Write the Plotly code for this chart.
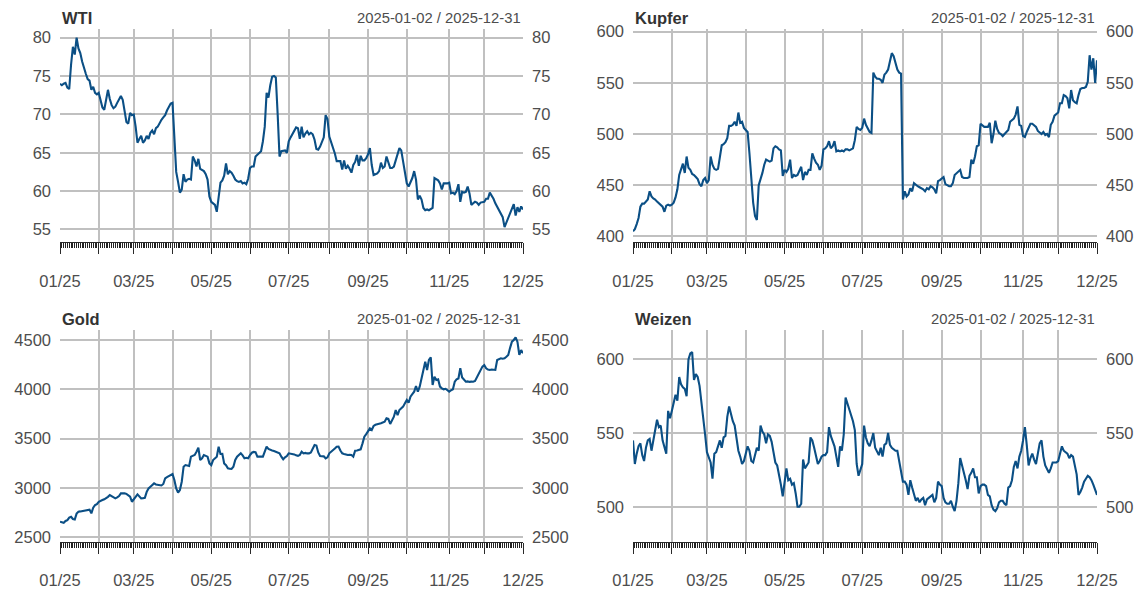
import numpy as np
import pandas as pd
import plotly.graph_objects as go

# Daily closing prices 2025, one list per month (Jan .. Dec)
wti = [
    74.0, 73.8, 74.0, 74.1, 73.5, 73.3, 76.5, 78.8, 77.8, 80.0, 78.6, 78.0, 76.9, 75.9, 75.3, 74.6, 74.4, 73.2, 73.6, 72.8, 72.6,
    72.8, 71.8, 70.9, 70.6, 72.2, 73.2, 72.0, 71.2, 70.8, 71.0, 71.5, 72.0, 72.4, 71.9, 70.5, 69.0, 68.8, 70.2, 69.9,
    70.0, 68.4, 66.3, 66.8, 67.2, 66.3, 66.6, 67.2, 66.8, 67.6, 67.9, 67.4, 68.2, 68.4, 68.9, 69.3, 69.6, 69.9, 70.5, 71.0, 71.4,
    71.5, 66.5, 62.5, 61.2, 59.8, 60.2, 62.2, 61.2, 61.5, 61.6, 61.5, 64.5, 64.0, 63.2, 64.2, 62.9, 62.8, 62.6, 62.2, 61.5, 59.3,
    58.6, 58.4, 58.2, 57.3, 59.5, 61.1, 61.4, 62.0, 63.6, 62.2, 62.6, 62.4, 62.0, 61.5, 61.3, 61.2, 61.3, 61.0, 61.1, 60.9, 61.6,
    63.0, 63.2, 63.2, 64.5, 64.7, 65.0, 65.2, 66.5, 68.4, 72.8, 72.2, 73.8, 74.9, 75.0, 74.8, 70.0, 64.5, 65.2, 65.3, 65.3, 65.0,
    66.5, 67.0, 67.5, 67.9, 68.3, 68.2, 66.8, 68.4, 67.0, 67.5, 67.8, 67.4, 67.6, 67.4, 66.7, 65.5, 65.4, 65.8, 66.3, 67.0, 69.9, 69.4,
    67.1, 66.4, 65.8, 64.9, 63.9, 63.9, 63.9, 62.8, 64.0, 62.9, 63.3, 62.9, 62.4, 63.4, 63.8, 64.7, 63.3, 64.6, 64.0, 64.0, 64.3,
    64.8, 65.6, 63.4, 62.1, 62.2, 62.3, 62.6, 63.7, 63.0, 63.2, 64.5, 63.8, 63.0, 63.0, 63.2, 64.0, 65.0, 65.6, 65.3, 63.8, 62.4,
    61.0, 60.6, 61.2, 61.7, 62.6, 61.5, 58.9, 59.4, 58.9, 57.8, 57.5, 57.6, 57.5, 57.6, 57.8, 61.7, 61.6, 61.4, 61.0, 60.2, 61.0, 61.0, 61.0,
    61.1, 59.7, 59.8, 59.6, 60.0, 60.9, 58.6, 59.9, 59.8, 59.9, 60.6, 59.7, 58.2, 58.4, 58.6, 58.5, 58.2, 58.5, 58.6,
    58.6, 59.0, 59.0, 59.8, 59.4, 59.0, 58.4, 57.9, 57.4, 57.0, 56.6, 55.3, 55.9, 56.4, 57.2, 57.8, 58.3, 56.8, 57.9, 57.3, 58.0, 57.6,
]

kupfer = [
    405, 407, 412, 418, 429, 432, 432, 434, 436, 444, 439, 437, 436, 434, 432, 430, 429, 424, 430, 431, 430,
    431, 433, 438, 446, 460, 466, 471, 462, 478, 467, 465, 461, 460, 458, 456, 451, 449, 455, 457,
    452, 455, 478, 470, 466, 465, 466, 476, 489, 490, 492, 496, 508, 508, 509, 512, 508, 521, 511, 512, 506,
    504, 502, 481, 452, 433, 420, 416, 450, 455, 462, 470, 475, 474, 473, 474, 486, 488, 487, 485, 484, 459,
    465, 463, 466, 475, 457, 460, 459, 460, 465, 468, 455, 463, 460, 465, 465, 481, 476, 472, 470, 465, 469,
    485, 486, 488, 493, 486, 488, 493, 483, 484, 483, 484, 483, 485, 485, 484, 485, 486, 494, 507, 505, 504,
    506, 515, 509, 505, 502, 501, 560, 556, 554, 554, 553, 550, 558, 560, 563, 571, 579, 576, 570, 563, 560, 559,
    436, 444, 439, 441, 447, 444, 452, 450, 449, 448, 447, 446, 444, 447, 446, 449, 448, 446, 442, 454, 455,
    457, 458, 451, 450, 449, 449, 452, 460, 462, 463, 465, 458, 457, 457, 457, 458, 475, 471, 478, 488, 489,
    510, 508, 507, 507, 507, 511, 491, 500, 513, 505, 501, 500, 498, 500, 502, 504, 512, 514, 515, 519, 527, 509, 508,
    498, 497, 502, 506, 510, 510, 508, 507, 503, 501, 500, 502, 499, 500, 497, 509, 512, 518, 520,
    521, 530, 530, 538, 537, 535, 525, 543, 533, 531, 530, 538, 544, 545, 545, 546, 551, 577, 563, 574, 550, 572,
]

gold = [
    2657, 2650, 2646, 2665, 2674, 2700, 2708, 2685, 2680, 2740, 2759, 2762, 2766, 2765, 2770, 2772, 2780, 2742, 2800, 2826, 2836,
    2860, 2865, 2877, 2885, 2894, 2910, 2928, 2918, 2911, 2894, 2905, 2918, 2945, 2948, 2945, 2940, 2925, 2911, 2860,
    2880, 2910, 2935, 2915, 2894, 2896, 2900, 2960, 2995, 3012, 3025, 3046, 3035, 3029, 3030, 3025, 3040, 3097, 3110, 3121, 3130,
    3141, 3080, 2995, 2952, 2979, 3063, 3215, 3232, 3225, 3222, 3317, 3325, 3334, 3367, 3408, 3283, 3300, 3334, 3325, 3317, 3249,
    3232, 3283, 3300, 3317, 3418, 3344, 3345, 3249, 3230, 3198, 3195, 3192, 3215, 3283, 3317, 3330, 3351, 3330, 3300, 3305, 3300,
    3334, 3357, 3365, 3362, 3317, 3320, 3318, 3317, 3360, 3418, 3395, 3384, 3380, 3375, 3367, 3360, 3351, 3317, 3290, 3310, 3323,
    3351, 3348, 3345, 3340, 3330, 3325, 3334, 3367, 3350, 3355, 3350, 3350, 3360, 3400, 3435, 3430, 3360, 3323, 3318, 3320, 3300, 3310,
    3351, 3365, 3384, 3400, 3418, 3420, 3380, 3351, 3345, 3338, 3334, 3335, 3334, 3317, 3378, 3380, 3385, 3391, 3452, 3520, 3545,
    3570, 3604, 3587, 3628, 3640, 3648, 3650, 3655, 3665, 3672, 3706, 3700, 3648, 3690, 3722, 3790, 3739, 3790, 3805, 3824, 3858,
    3891, 3864, 3925, 3950, 3976, 4033, 3976, 4027, 4111, 4162, 4280, 4196, 4297, 4324, 4044, 4128, 4094, 4100, 4027, 4010, 4000, 4005, 3990,
    3976, 3990, 4000, 4077, 4101, 4110, 4213, 4120, 4094, 4077, 4080, 4075, 4078, 4077, 4085, 4121, 4170, 4200, 4230,
    4246, 4213, 4200, 4196, 4200, 4198, 4196, 4297, 4305, 4314, 4310, 4314, 4330, 4348, 4420, 4483, 4500, 4527, 4480, 4348, 4398, 4365,
]

weizen = [
    545, 529, 536, 541, 543, 535, 531, 540, 545, 546, 538, 545, 550, 559, 554, 555, 545, 540, 536, 565, 560,
    565, 570, 576, 572, 588, 583, 581, 580, 575, 600, 604, 605, 586, 590, 588, 582, 572, 561, 549,
    537, 534, 530, 519, 536, 537, 541, 545, 540, 547, 548, 561, 568, 562, 558, 555, 545, 538, 534, 529, 531,
    537, 541, 538, 531, 530, 536, 540, 538, 555, 551, 549, 543, 549, 548, 544, 537, 530, 528, 522, 515, 507,
    517, 526, 518, 519, 515, 516, 509, 500, 500, 502, 532, 526, 528, 530, 547, 545, 540, 535, 529, 531, 534,
    535, 535, 537, 554, 548, 545, 541, 534, 527, 541, 538, 549, 574, 570, 566, 563, 558, 552, 529, 521, 526,
    529, 555, 547, 543, 541, 545, 550, 540, 537, 535, 540, 534, 542, 543, 550, 542, 540, 539, 538, 538, 530, 522,
    517, 517, 515, 508, 518, 513, 509, 504, 506, 503, 505, 506, 501, 505, 506, 507, 508, 503, 506, 517, 515,
    514, 506, 503, 502, 502, 504, 500, 497, 504, 516, 533, 528, 525, 518, 512, 521, 523, 526, 520, 520, 509,
    514, 515, 515, 514, 508, 507, 501, 498, 497, 499, 503, 504, 504, 502, 501, 513, 514, 518, 527, 531, 526, 534, 538,
    545, 554, 542, 528, 533, 536, 532, 529, 536, 543, 545, 534, 528, 525, 523, 526, 530, 530, 530,
    531, 537, 541, 538, 537, 536, 533, 535, 534, 528, 522, 508, 510, 513, 517, 519, 521, 520, 518, 515, 512, 508,
]

titles = ["WTI", "Kupfer", "Gold", "Weizen"]
y_ticks = [
    [55, 60, 65, 70, 75, 80],
    [400, 450, 500, 550, 600],
    [2500, 3000, 3500, 4000, 4500],
    [500, 550, 600],
]
holidays = ["2025-01-20", "2025-02-17", "2025-04-18", "2025-05-26",
            "2025-07-04", "2025-09-01", "2025-11-27", "2025-12-25"]
labelled_months = [1, 3, 5, 7, 9, 11]

# trading-day calendar; x axis is the observation index
days = pd.bdate_range("2025-01-02", "2025-12-31").drop(pd.to_datetime(holidays))
n = len(days)
idx = np.arange(n)
for s in (wti, kupfer, gold, weizen):
    assert len(s) == n, (len(s), n)

month_starts = [i for i in range(n) if i == 0 or days[i].month != days[i - 1].month]
tick_pos = month_starts + [n - 1]
tick_txt = [days[i].strftime("%m/%y") if days[i].month in labelled_months else "" for i in month_starts]
tick_txt.append(days[-1].strftime("%m/%y"))
span_txt = f"{days[0]:%Y-%m-%d} / {days[-1]:%Y-%m-%d}"

W, H = 1143, 593
LINE = "#0B4F85"
GRID = "#C0C0C0"
AX = "#2A2A2A"
TXT = "#4D4D4D"
FONT = "Liberation Sans, Arial, sans-serif"

# panel frames in pixels: (left, right), (top, bottom), y range
frames = [
    ((60, 523), (29, 241.7), (53.4, 81.13)),
    ((633, 1097), (29, 241.7), (394.8, 602.6)),
    ((60, 523), (330, 541.5), (2457, 4601)),
    ((633, 1097), (330, 541.5), (476.4, 619.9)),
]
series = [wti, kupfer, gold, weizen]

fig = go.Figure()
layout = dict(
    width=W, height=H, margin=dict(l=0, r=0, t=0, b=0, autoexpand=False),
    paper_bgcolor="white", plot_bgcolor="white",
    font=dict(family=FONT, color=TXT), showlegend=False, hovermode=False,
    annotations=[],
)

for k, (title, vals, ticks, ((x0, x1), (top, bot), yr)) in enumerate(
        zip(titles, series, y_ticks, frames), start=1):
    xa, ya, yr_ax = f"x{k}", f"y{k}", f"y{k + 4}"
    fig.add_trace(go.Scatter(x=idx, y=vals, xaxis=xa, yaxis=ya, mode="lines",
                             line=dict(color=LINE, width=2.1)))
    fig.add_trace(go.Scatter(x=idx, y=vals, xaxis=xa, yaxis=yr_ax, mode="lines",
                             line=dict(width=0), opacity=0, hoverinfo="skip"))
    xname = "xaxis" if k == 1 else f"xaxis{k}"
    yname = "yaxis" if k == 1 else f"yaxis{k}"
    layout[xname] = dict(
        domain=[x0 / W, x1 / W], range=[0, n - 1], anchor=ya, automargin=False,
        tickmode="array", tickvals=tick_pos, ticktext=tick_txt,
        ticks="outside", ticklen=11, tickwidth=1.2, tickcolor=AX,
        showline=True, linecolor=AX, linewidth=1,
        showgrid=True, gridcolor=GRID, gridwidth=1.5, zeroline=False,
        tickfont=dict(size=16.5, color=TXT), ticklabelstandoff=13,
        # one short tick per trading day
        minor=dict(tickmode="linear", tick0=0, dtick=1, ticks="outside",
                   ticklen=5, tickwidth=1, tickcolor="#222222", showgrid=False),
    )
    layout[yname] = dict(
        domain=[1 - bot / H, 1 - top / H], range=list(yr), anchor=xa, automargin=False,
        tickmode="array", tickvals=ticks, ticks="", showline=False,
        showgrid=True, gridcolor=GRID, gridwidth=1.5, zeroline=False,
        tickfont=dict(size=16.5, color=TXT), ticklabelstandoff=8,
    )
    layout[f"yaxis{k + 4}"] = dict(
        overlaying=ya, side="right", anchor=xa, range=list(yr), automargin=False,
        tickmode="array", tickvals=ticks, ticks="", showline=False,
        showgrid=False, zeroline=False,
        tickfont=dict(size=16.5, color=TXT), ticklabelstandoff=8,
    )
    ty = 1 - (top - 11.5) / H
    layout["annotations"].append(dict(
        x=x0 / W, y=ty, xref="paper", yref="paper", xanchor="left", yanchor="middle",
        text=f"<b>{title}</b>", showarrow=False, font=dict(size=16.5, color="#333333")))
    layout["annotations"].append(dict(
        x=x1 / W, y=ty, xref="paper", yref="paper", xanchor="right", yanchor="middle",
        text=span_txt, showarrow=False, font=dict(size=14.8, color=TXT)))

fig.update_layout(**layout)
fig.write_html("out.html")
